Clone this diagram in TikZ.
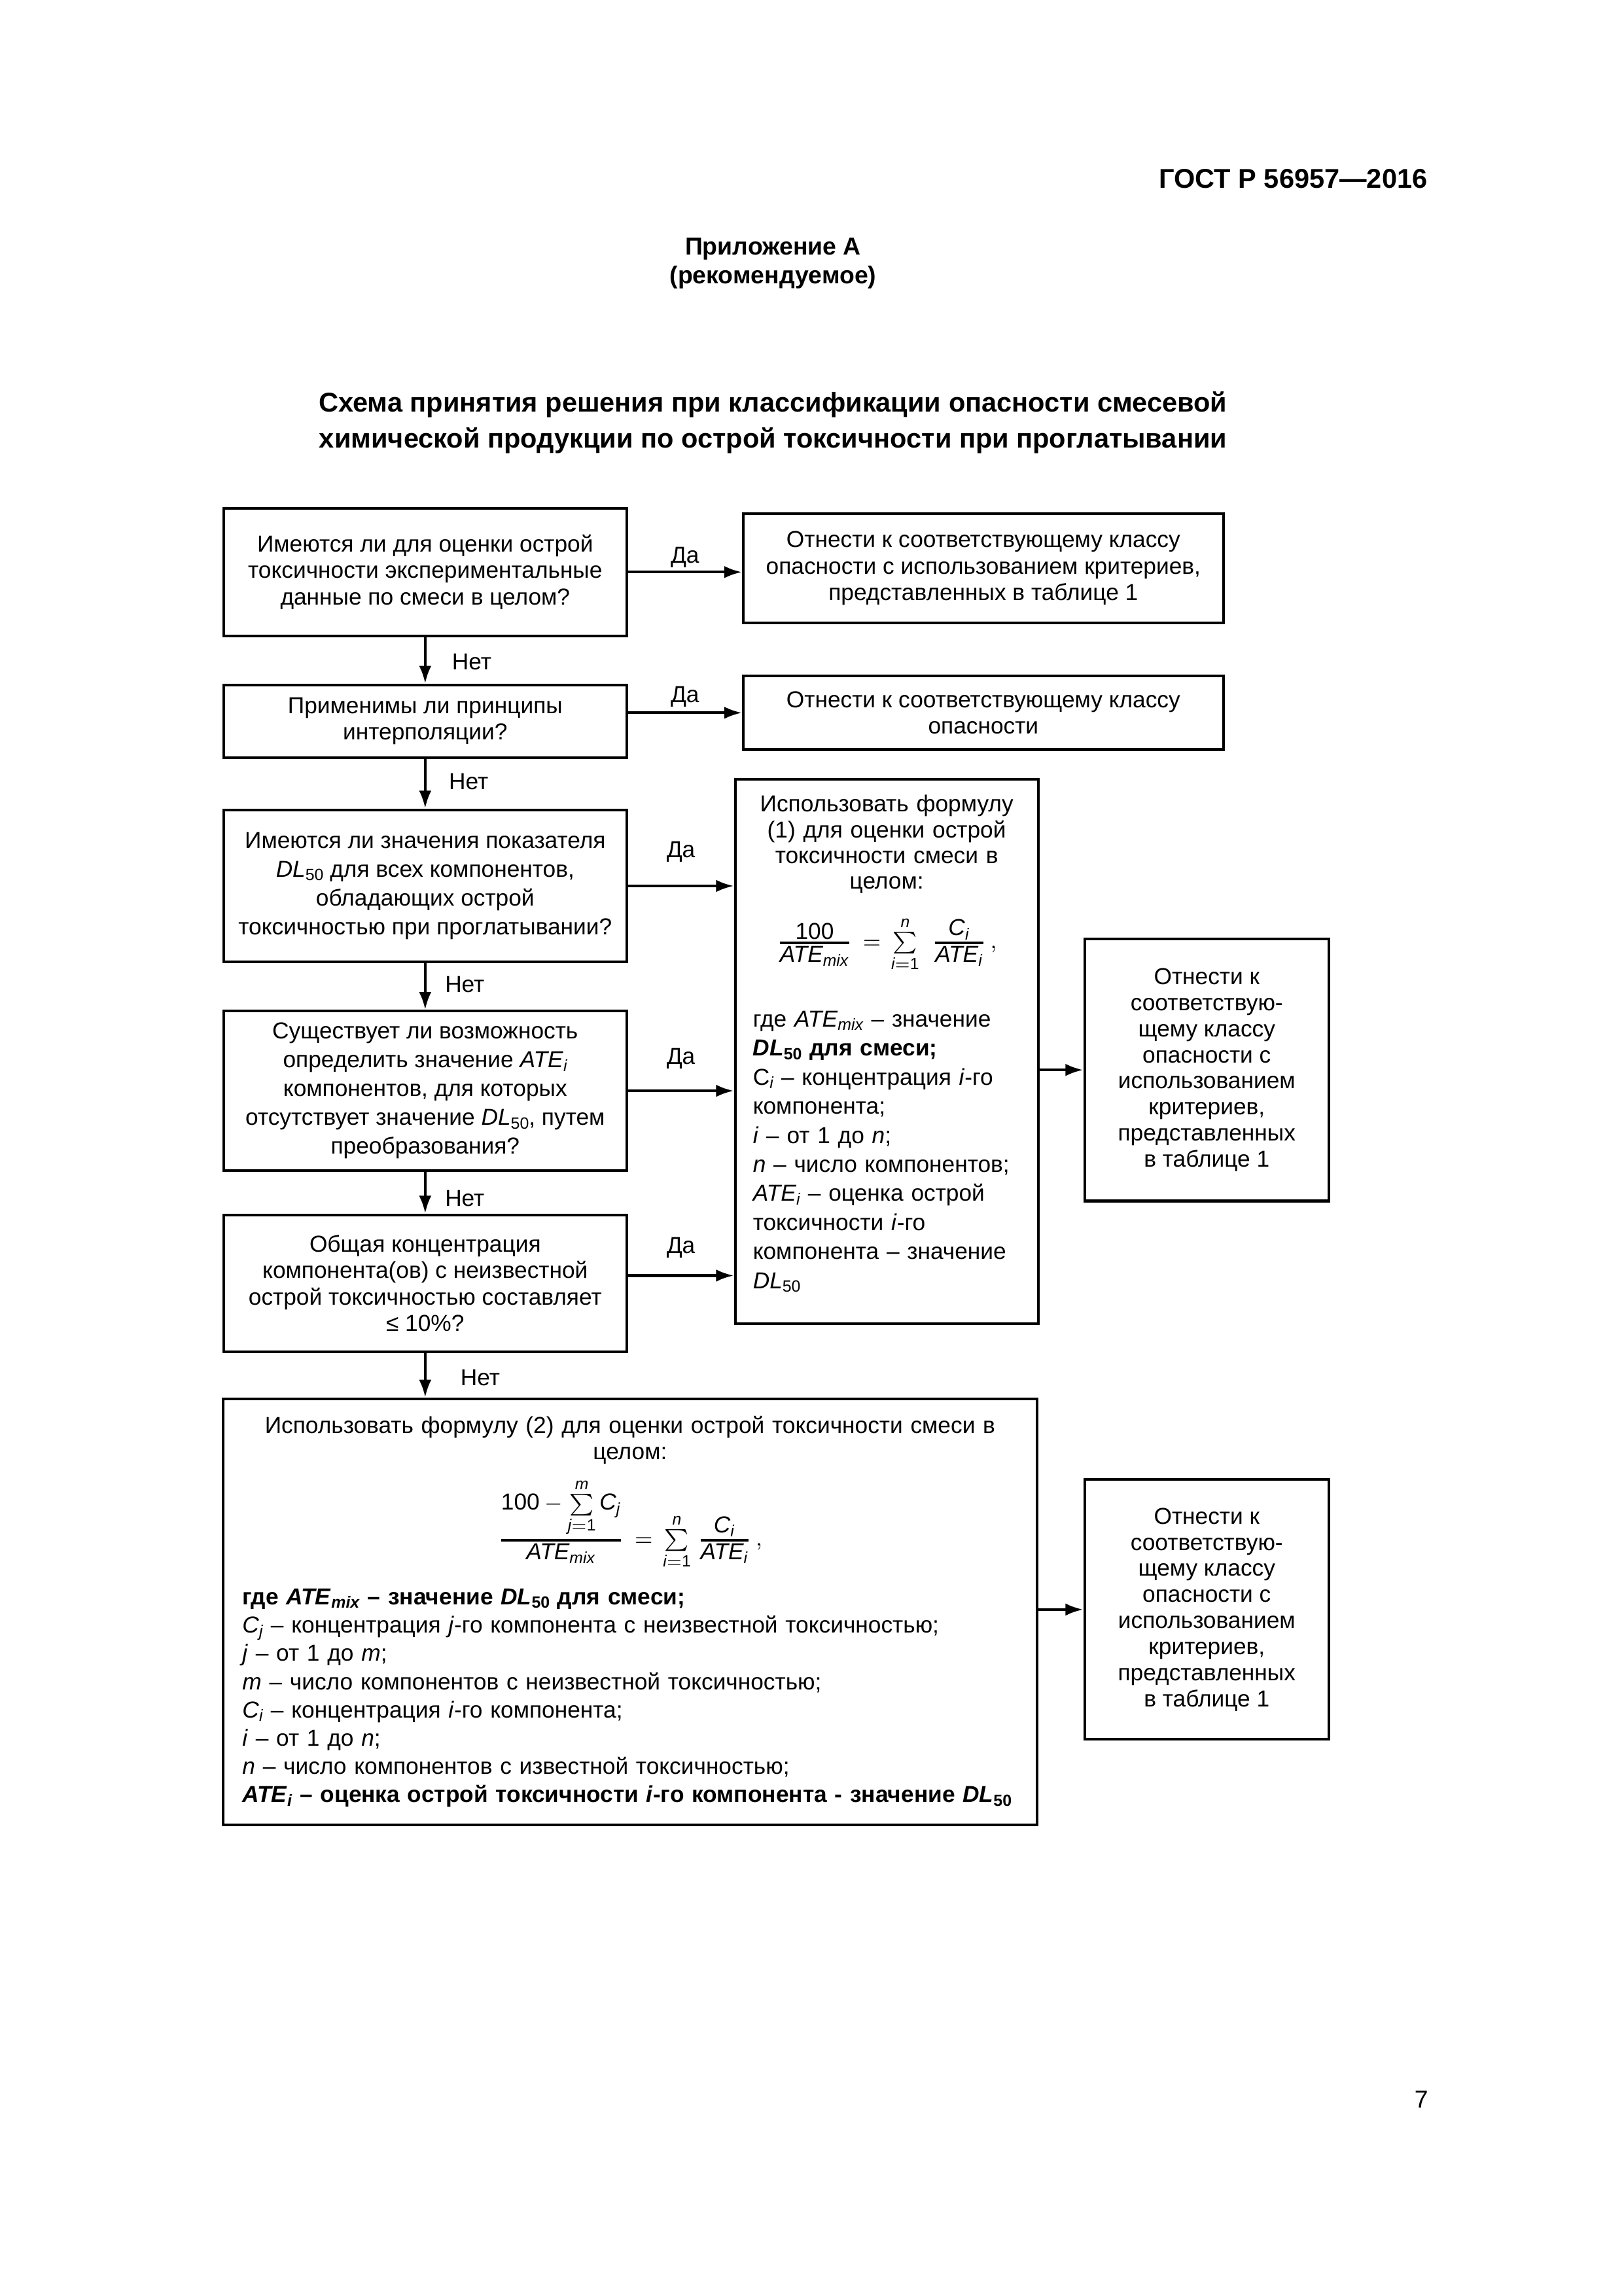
\documentclass[tikz,border=0pt]{standalone}
\usepackage{amsmath}
\usepackage{fontspec}
\setmainfont{Liberation Sans}
\usetikzlibrary{arrows.meta,positioning}

\newcommand{\boxfont}{\fontsize{8.5}{9.7}\selectfont}
\newcommand{\vv}[1]{\textit{#1}}
\newcommand{\sub}[1]{\raisebox{-1.3pt}{\fontsize{6}{7}\selectfont #1}}
\newcommand{\dl}{\vv{DL}\sub{50}}
\newcommand{\ate}[1]{\vv{ATE}\sub{\vv{#1}}}
\newcommand{\fr}[2]{\genfrac{}{}{0.8pt}{1}{\textstyle #1}{\textstyle #2}}

\tikzset{
  qbox/.style={draw, line width=1pt, align=center, inner sep=0.5mm, font=\boxfont},
  formbox/.style={draw, line width=1pt, inner xsep=2.3mm, inner ysep=1mm, font=\boxfont},
  lbl/.style={font=\boxfont, inner sep=0pt},
  conn/.style={line width=1pt, -{Latex[length=2.3mm,width=1.6mm]}},
  head/.style={anchor=base, inner sep=0pt, font=\fontsize{10}{12}\selectfont\bfseries},
}

\begin{document}
\begin{tikzpicture}[x=1mm,y=-1mm]
\fill[white] (0,0) rectangle (210,297);
\useasboundingbox (0,0) rectangle (210,297);

% page header and title
\node[head, anchor=base east] (gost) at (184.7,24.3) {ГОСТ Р 56957—2016};
\node[head, font=\fontsize{9}{11}\selectfont\bfseries] (app) at (100,33.0) {Приложение А};
\node[head, font=\fontsize{9}{11}\selectfont\bfseries] (rec) at (100,36.7) {(рекомендуемое)};
\node[head] (title1) at (100,53.3) {Схема принятия решения при классификации опасности смесевой};
\node[head] (title2) at (100,57.9) {химической продукции по острой токсичности при проглатывании};

% questions
\node[qbox, minimum width=52.1mm, minimum height=16.5mm] (B1) at (55.0,74.0)
  {Имеются ли для оценки острой\\токсичности экспериментальные\\данные по смеси в целом?};
\node[qbox, minimum width=52.1mm, minimum height=9.4mm] (B2) at (55.0,93.3)
  {Применимы ли принципы\\интерполяции?};
\node[qbox, minimum width=52.1mm, minimum height=19.7mm, font=\fontsize{8.5}{10.6}\selectfont] (B3) at (55.0,114.6)
  {Имеются ли значения показателя\\\dl{} для всех компонентов,\\обладающих острой\\токсичностью при проглатывании?};
\node[qbox, minimum width=52.1mm, minimum height=20.6mm, font=\fontsize{8.5}{10.6}\selectfont] (B4) at (55.0,141.1)
  {Существует ли возможность\\определить значение \ate{i}\\компонентов, для которых\\отсутствует значение \dl, путем\\преобразования?};
\node[qbox, minimum width=52.1mm, minimum height=17.7mm] (B5) at (55.0,166.0)
  {Общая концентрация\\компонента(ов) с неизвестной\\острой токсичностью составляет\\≤ 10\%?};

% results
\node[qbox, minimum width=62.1mm, minimum height=14.1mm] (R1) at (127.2,73.5)
  {Отнести к соответствующему классу\\опасности с использованием критериев,\\представленных в таблице 1};
\node[qbox, minimum width=62.1mm, minimum height=9.5mm] (R2) at (127.2,92.2)
  {Отнести к соответствующему классу\\опасности};
\node[qbox, minimum width=31.6mm, minimum height=33.9mm, font=\fontsize{8.5}{9.6}\selectfont] (R3) at (156.1,138.4)
  {Отнести к\\соответствую-\\щему классу\\опасности с\\использованием\\критериев,\\представленных\\в таблице 1};
\node[qbox, minimum width=31.6mm, minimum height=33.6mm, font=\fontsize{8.5}{9.6}\selectfont] (R4) at (156.1,208.2)
  {Отнести к\\соответствую-\\щему классу\\опасности с\\использованием\\критериев,\\представленных\\в таблице 1};

% formula (1)
\node[formbox, text width=34.6mm, minimum height=70.4mm] (F1) at (114.7,136.0) {%
  {\centering\fontsize{8.5}{9.45}\selectfont Использовать формулу\\(1) для оценки острой\\токсичности смеси в\\целом:\par}
  \vspace{2.6mm}
  {\centering $\fr{\textup{100}}{\vv{ATE}_{\vv{mix}}}\,=\,{\textstyle\sum\limits_{\vv{i}=\textup{1}}^{\vv{n}}}\;\;\fr{\textup{\vv{C}}_{\vv{i}}}{\vv{ATE}_{\vv{i}}}\,,$\par}
  \vspace{4.7mm}
  {\raggedright\fontsize{8.5}{10.7}\selectfont
  где \ate{mix} – значение\\
  {\bfseries\dl{} для смеси;}\\
  C\sub{\vv{i}} – концентрация \vv{i}-го\\
  компонента;\\
  \vv{i} – от 1 до \vv{n};\\
  \vv{n} – число компонентов;\\
  \ate{i} – оценка острой\\
  токсичности \vv{i}-го\\
  компонента – значение\\
  \dl\par}\nointerlineskip\vbox to 2mm{}};

% formula (2)
\node[formbox, inner xsep=2.5mm, text width=100.3mm, minimum height=55.1mm] (F2) at (81.5,208.5) {%
  {\centering\fontsize{8.5}{9.45}\selectfont Использовать формулу (2) для оценки острой токсичности смеси в\\целом:\par}
  \vspace{1.5mm}
  {\centering $\fr{\textup{100}-{\textstyle\sum\limits_{\vv{j}=\textup{1}}^{\vv{m}}}\,\vv{C}_{\vv{j}}}{\vv{ATE}_{\vv{mix}}}\,=\,{\textstyle\sum\limits_{\vv{i}=\textup{1}}^{\vv{n}}}\;\fr{\vv{C}_{\vv{i}}}{\vv{ATE}_{\vv{i}}}\,,$\par}
  \vspace{2.2mm}
  {\raggedright\fontsize{8.5}{10.4}\selectfont
  {\bfseries где \ate{mix} – значение \dl{} для смеси;}\\
  \vv{C}\sub{\vv{j}} – концентрация \vv{j}-го компонента с неизвестной токсичностью;\\
  \vv{j} – от 1 до \vv{m};\\
  \vv{m} – число компонентов с неизвестной токсичностью;\\
  \vv{C}\sub{\vv{i}} – концентрация \vv{i}-го компонента;\\
  \vv{i} – от 1 до \vv{n};\\
  \vv{n} – число компонентов с известной токсичностью;\\
  {\bfseries\ate{i} – оценка острой токсичности \vv{i}-го компонента - значение \dl}\par}};

% yes branches
\draw[conn] (B1.east) -- node[lbl, midway, yshift=1.9mm] {Да} (B1.east -| R1.west);
\draw[conn] (B2.east |- R2.west) -- node[lbl, midway, yshift=2.1mm] {Да} (R2.west);
\draw[conn] (B3.east) -- node[lbl, midway, yshift=4.4mm] {Да} (B3.east -| F1.west);
\draw[conn] (B4.east) -- node[lbl, midway, yshift=4.2mm] {Да} (B4.east -| F1.west);
\draw[conn] ([yshift=1mm]B5.east) -- node[lbl, midway, yshift=3.6mm] {Да} ([yshift=1mm]B5.east -| F1.west);
\draw[conn] (F1.east |- R3.west) -- (R3.west);
\draw[conn] (F2.east |- R4.west) -- (R4.west);

% no branches
\draw[conn] (B1.south) -- node[lbl, midway, anchor=west, xshift=3.3mm, yshift=-0.2mm] {Нет} (B2.north);
\draw[conn] (B2.south) -- node[lbl, midway, anchor=west, xshift=2.9mm, yshift=0.3mm] {Нет} (B3.north);
\draw[conn] (B3.south) -- node[lbl, midway, anchor=west, xshift=2.4mm, yshift=0.3mm] {Нет} (B4.north);
\draw[conn] (B4.south) -- node[lbl, midway, anchor=west, xshift=2.4mm, yshift=-0.7mm] {Нет} (B5.north);
\draw[conn] (B5.south) -- node[lbl, midway, anchor=west, xshift=4.4mm, yshift=-0.3mm] {Нет} (B5.south |- F2.north);

\node[anchor=base east, inner sep=0pt, font=\fontsize{9}{11}\selectfont] (page) at (184.8,272.7) {7};
\end{tikzpicture}
\end{document}
